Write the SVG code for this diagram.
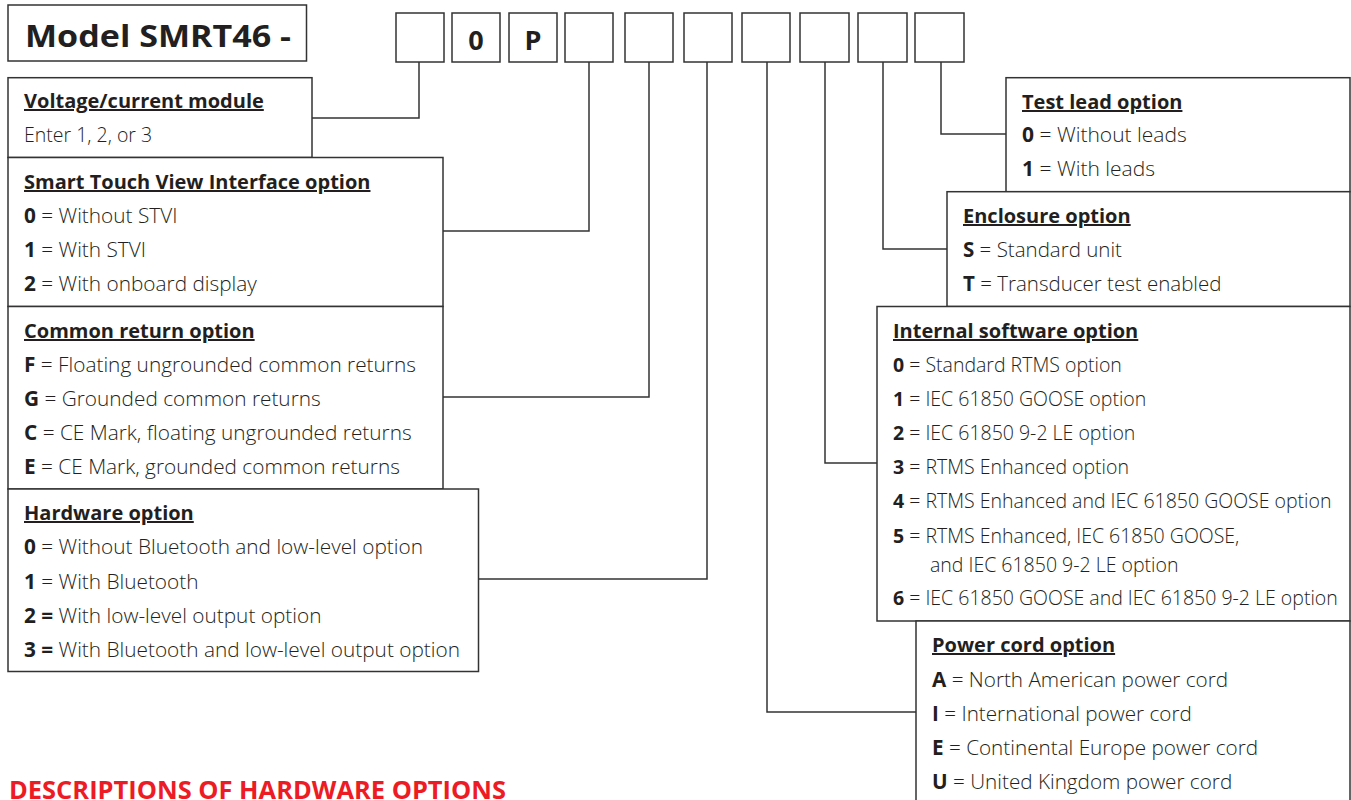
<svg xmlns="http://www.w3.org/2000/svg" width="1351" height="800" viewBox="0 0 1351 800">
<style>
.bg{fill:#fff}
.box{fill:#fff;stroke:#333;stroke-width:1.5}
.conn{fill:none;stroke:#333;stroke-width:1.5}
text{font-family:"Open Sans","Liberation Sans",sans-serif;fill:#231f20}
.t{font-weight:300}
.h{font-size:20px;font-weight:bold;text-decoration:underline}
.b{font-weight:bold}
.title{font-size:31px;font-weight:bold}
.code{font-size:27px;font-weight:bold;text-anchor:middle}
.red{font-size:25px;font-weight:bold;fill:#ED1C24}
.sV{font-size:19.5px}
.sL{font-size:20.8px}
.sT{font-size:21px}
.sE{font-size:20.5px}
.sI{font-size:19.5px}
.sP{font-size:20.7px}
</style>
<rect class="bg" x="0" y="0" width="1351" height="800"/>

<g id="connectors">
<path class="conn" d="M419,62 V118 H312"/>
<path class="conn" d="M589,62 V231 H443"/>
<path class="conn" d="M649,62 V397 H443"/>
<path class="conn" d="M707,62 V579 H478"/>
<path class="conn" d="M767,62 V712 H916"/>
<path class="conn" d="M825,62 V463 H877"/>
<path class="conn" d="M883,62 V249 H947"/>
<path class="conn" d="M941,62 V134 H1006"/>
</g>

<g id="title">
<rect class="box" x="8" y="5" width="298.5" height="56"/>
<text class="title" x="25" y="47" textLength="266" lengthAdjust="spacingAndGlyphs">Model SMRT46 -</text>
</g>

<g id="code-boxes">
<rect class="box" x="396" y="13" width="48" height="49"/>
<rect class="box" x="452" y="13" width="48" height="49"/>
<text class="code" x="476" y="50">0</text>
<rect class="box" x="509" y="13" width="48" height="49"/>
<text class="code" x="533" y="50">P</text>
<rect class="box" x="565" y="13" width="48" height="49"/>
<rect class="box" x="625" y="13" width="48" height="49"/>
<rect class="box" x="684" y="13" width="48" height="49"/>
<rect class="box" x="742" y="13" width="48" height="49"/>
<rect class="box" x="800" y="13" width="49" height="49"/>
<rect class="box" x="858" y="13" width="49" height="49"/>
<rect class="box" x="915" y="13" width="49" height="49"/>
</g>

<g id="voltage" class="sV">
<rect class="box" x="8" y="77.7" width="304" height="79.8"/>
<text class="h" x="24" y="108">Voltage/current module</text>
<text class="t" x="24" y="142">Enter 1, 2, or 3</text>
</g>

<g id="stvi" class="sL">
<rect class="box" x="8" y="157.5" width="435" height="149"/>
<text class="h" x="24" y="189">Smart Touch View Interface option</text>
<text class="t" x="24" y="223"><tspan class="b">0</tspan> = Without STVI</text>
<text class="t" x="24" y="257"><tspan class="b">1</tspan> = With STVI</text>
<text class="t" x="24" y="291"><tspan class="b">2</tspan> = With onboard display</text>
</g>

<g id="common-return" class="sL">
<rect class="box" x="8" y="306.5" width="435" height="182.5"/>
<text class="h" x="24" y="338">Common return option</text>
<text class="t" x="24" y="372"><tspan class="b">F</tspan> = Floating ungrounded common returns</text>
<text class="t" x="24" y="406"><tspan class="b">G</tspan> =  Grounded common returns</text>
<text class="t" x="24" y="440"><tspan class="b">C</tspan> = CE Mark, floating ungrounded returns</text>
<text class="t" x="24" y="474"><tspan class="b">E</tspan> = CE Mark, grounded common returns</text>
</g>

<g id="hardware" class="sL">
<rect class="box" x="8" y="489" width="470.5" height="182.5"/>
<text class="h" x="24" y="520">Hardware option</text>
<text class="t" x="24" y="554"><tspan class="b">0</tspan> = Without Bluetooth and low-level option</text>
<text class="t" x="24" y="589"><tspan class="b">1</tspan> = With Bluetooth</text>
<text class="t" x="24" y="623"><tspan class="b">2 =</tspan> With low-level output option</text>
<text class="t" x="24" y="657"><tspan class="b">3 =</tspan> With Bluetooth and low-level output option</text>
</g>

<g id="test-lead" class="sT">
<rect class="box" x="1006" y="77.7" width="344" height="114"/>
<text class="h" x="1022" y="109">Test lead option</text>
<text class="t" x="1022" y="142"><tspan class="b">0</tspan> = Without leads</text>
<text class="t" x="1022" y="176"><tspan class="b">1</tspan> = With leads</text>
</g>

<g id="enclosure" class="sE">
<rect class="box" x="947" y="191.7" width="403" height="114.8"/>
<text class="h" x="963" y="223">Enclosure option</text>
<text class="t" x="963" y="257"><tspan class="b">S</tspan> = Standard unit</text>
<text class="t" x="963" y="291"><tspan class="b">T</tspan> = Transducer test enabled</text>
</g>

<g id="internal-software" class="sI">
<rect class="box" x="877" y="306.5" width="473" height="314.5"/>
<text class="h" x="893" y="338">Internal software option</text>
<text class="t" x="893" y="372"><tspan class="b">0</tspan> = Standard RTMS option</text>
<text class="t" x="893" y="406"><tspan class="b">1</tspan> = IEC 61850 GOOSE option</text>
<text class="t" x="893" y="440"><tspan class="b">2</tspan> = IEC 61850 9-2 LE option</text>
<text class="t" x="893" y="474"><tspan class="b">3</tspan> = RTMS Enhanced option</text>
<text class="t" x="893" y="508"><tspan class="b">4</tspan> = RTMS Enhanced and IEC 61850 GOOSE option</text>
<text class="t" x="893" y="543"><tspan class="b">5</tspan> = RTMS Enhanced, IEC 61850 GOOSE,</text>
<text class="t" x="930" y="572">and IEC 61850 9-2 LE option</text>
<text class="t" x="893" y="605"><tspan class="b">6</tspan> = IEC 61850 GOOSE and IEC 61850 9-2 LE option</text>
</g>

<g id="power-cord" class="sP">
<rect class="box" x="916" y="621" width="434" height="190"/>
<text class="h" x="932" y="652">Power cord option</text>
<text class="t" x="932" y="687"><tspan class="b">A</tspan> = North American power cord</text>
<text class="t" x="932" y="721"><tspan class="b">I</tspan> = International power cord</text>
<text class="t" x="932" y="755"><tspan class="b">E</tspan> = Continental Europe power cord</text>
<text class="t" x="932" y="789"><tspan class="b">U</tspan> = United Kingdom power cord</text>
</g>

<text class="red" x="9" y="799" textLength="497" lengthAdjust="spacingAndGlyphs">DESCRIPTIONS OF HARDWARE OPTIONS</text>
</svg>
